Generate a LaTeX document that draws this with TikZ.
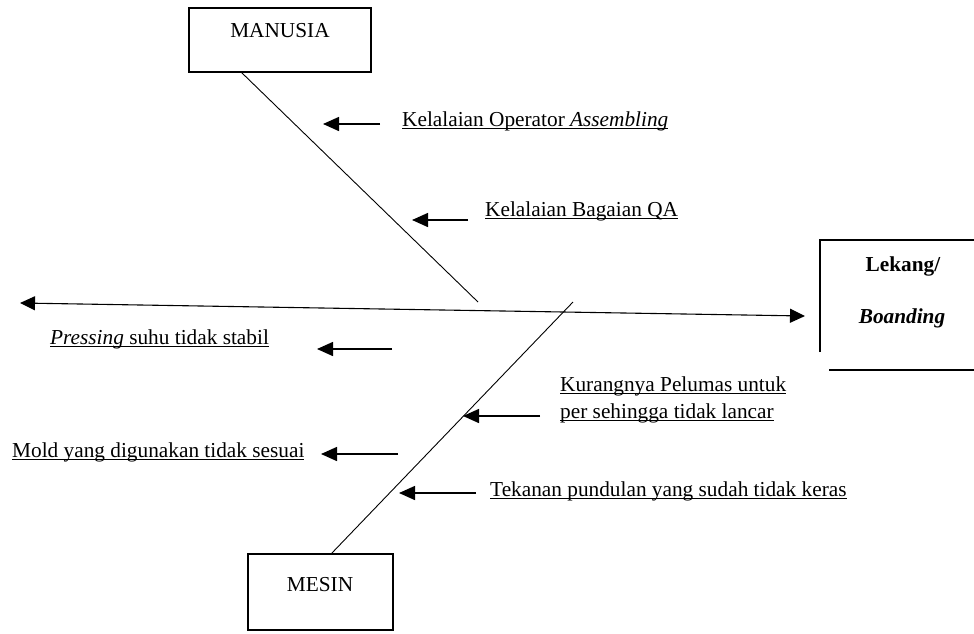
\documentclass[tikz,border=0pt]{standalone}
\usepackage{fontspec}
\setmainfont{Liberation Serif}
\usetikzlibrary{arrows.meta}
\newcommand{\myul}[1]{\setbox0\hbox{#1}\rlap{\rule[-3pt]{\wd0}{1.1pt}}\box0}
\begin{document}
\begin{tikzpicture}[x=1pt,y=-1pt,
  font=\fontsize{21.3}{26}\selectfont,
  bone/.style={line width=0.9pt},
  boxline/.style={line width=2.8pt},
  cause/.style={line width=1.5pt,-{Triangle[length=16pt,width=14pt]}},
  lbl/.style={anchor=base west,inner sep=0pt},
  ttl/.style={inner sep=0pt}]
\useasboundingbox (0,0) rectangle (974,633);
% boxes
\draw[boxline] (189,8) rectangle (371,72);
\node[ttl] (manusia) at (280,31) {MANUSIA};
\draw[boxline] (248,554) rectangle (393,630);
\node[ttl] (mesin) at (320,585) {MESIN};
\draw[boxline] (820,352) -- (820,240) -- (980,240);
\draw[boxline] (829,370) -- (980,370);
\node[ttl,font=\fontsize{21.3}{26}\selectfont\bfseries] (lekang) at (903,266) {Lekang/};
\node[ttl,font=\fontsize{21.3}{26}\selectfont\bfseries\itshape] (boanding) at (902,318) {Boanding};
% bones
\coordinate (spineL) at (20,303);
\coordinate (spineR) at (805,316);
\draw[bone,line width=1.1pt,{Triangle[length=15pt,width=14pt]}-{Triangle[length=15pt,width=14pt]}] (spineL) -- (spineR);
\coordinate (manTop) at (241,72);
\coordinate (manEnd) at (478,302);
\draw[bone] (manTop) -- (manEnd);
\coordinate (mesEnd) at (573,302);
\coordinate (mesTop) at (331,554);
\draw[bone] (mesEnd) -- (mesTop);
% causes
\node[lbl] (t1) at (402,126) {\myul{Kelalaian Operator \textit{Assembling}}};
\node[lbl] (t2) at (485,216) {\myul{Kelalaian Bagaian QA}};
\node[lbl] (t3) at (50,344) {\myul{\textit{Pressing} suhu tidak stabil}};
\node[lbl] (t4a) at (560,391) {\myul{Kurangnya Pelumas untuk}};
\node[lbl] (t4b) at (560,418) {\myul{per sehingga tidak lancar}};
\node[lbl] (t5) at (12,457) {\myul{Mold yang digunakan tidak sesuai}};
\node[lbl] (t6) at (490,496) {\myul{Tekanan pundulan yang sudah tidak keras}};
\coordinate (a1s) at (380,124); \coordinate (a1e) at (323,124);
\coordinate (a2s) at (468,220); \coordinate (a2e) at (412,220);
\coordinate (a3s) at (392,349); \coordinate (a3e) at (317,349);
\coordinate (a4s) at (540,416); \coordinate (a4e) at (463,416);
\coordinate (a5s) at (398,454); \coordinate (a5e) at (321,454);
\coordinate (a6s) at (476,493); \coordinate (a6e) at (399,493);
\draw[cause] (a1s) -- (a1e);
\draw[cause] (a2s) -- (a2e);
\draw[cause] (a3s) -- (a3e);
\draw[cause] (a4s) -- (a4e);
\draw[cause] (a5s) -- (a5e);
\draw[cause] (a6s) -- (a6e);
\end{tikzpicture}
\end{document}
